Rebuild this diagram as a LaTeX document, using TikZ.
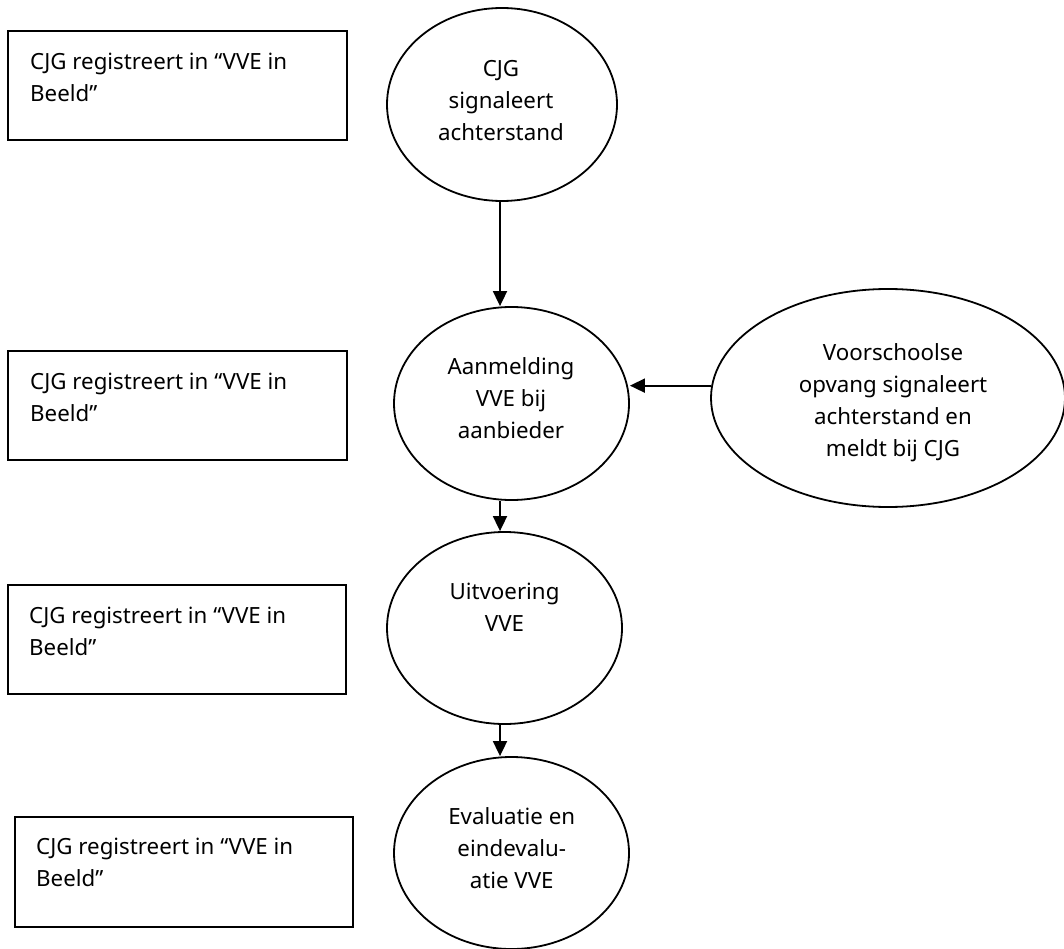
\documentclass[tikz,border=0pt]{standalone}
\usepackage{fontspec}
\setmainfont{Noto Sans}
\usetikzlibrary{arrows.meta,shapes.geometric}
\newcommand{\txtfont}{\fontsize{22.3pt}{32pt}\selectfont}
\newcommand{\firststrut}{\rule{0pt}{20pt}}
\begin{document}
\begin{tikzpicture}[x=1pt,y=-1pt,
  box/.style={draw,line width=1.8pt,rectangle,minimum width=#1,minimum height=109pt,inner sep=0pt},
  ell/.style 2 args={draw,line width=1.8pt,ellipse,minimum width=#1,minimum height=#2,inner sep=0pt},
  boxtxt/.style={anchor=north west,align=left,inner sep=0pt,font=\txtfont},
  elltxt/.style={anchor=north,align=center,inner sep=0pt,font=\txtfont},
  arr/.style={line width=1.8pt,-{Triangle[length=15pt,width=14pt]}}]
\useasboundingbox (0,0) rectangle (1064,949);
\fill[white] (0,0) rectangle (1064,949);
\clip (0,0) rectangle (1064,949);

% left boxes
\node[box=339pt] (b1) at (177.5,85.5) {};
\node[boxtxt] (tb1) at (30,49) {\firststrut CJG registreert in “VVE in\\Beeld”};
\node[box=339pt] (b2) at (177.5,405.5) {};
\node[boxtxt] (tb2) at (30,369) {\firststrut CJG registreert in “VVE in\\Beeld”};
\node[box=338pt] (b3) at (177,639.5) {};
\node[boxtxt] (tb3) at (29,603) {\firststrut CJG registreert in “VVE in\\Beeld”};
\node[box=338pt,minimum height=110pt] (b4) at (184,872) {};
\node[boxtxt] (tb4) at (36,834) {\firststrut CJG registreert in “VVE in\\Beeld”};

% ellipses
\node[ell={230pt}{193pt}] (e1) at (502,104.5) {};
\node[elltxt] (te1) at (501,56) {\firststrut CJG\\signaleert\\achterstand};
\node[ell={235pt}{193pt}] (e2) at (511.5,403.5) {};
\node[elltxt] (te2) at (511,354) {\firststrut Aanmelding\\VVE bij\\aanbieder};
\node[ell={354pt}{218pt}] (e3) at (888,398) {};
\node[elltxt] (te3) at (893,340) {\firststrut Voorschoolse\\opvang signaleert\\achterstand en\\meldt bij CJG};
\node[ell={235pt}{192pt}] (e4) at (504.5,628) {};
\node[elltxt] (te4) at (504.5,579) {\firststrut Uitvoering\\VVE};
\node[ell={235pt}{192pt}] (e5) at (511.5,853) {};
\node[elltxt] (te5) at (511.7,804) {\firststrut Evaluatie en\\eindevalu-\\atie VVE};

% connectors
\coordinate (spine) at (500,0);
\draw[arr] (e1.south -| spine) -- (e2.north -| spine);
\draw[arr] (e2.south -| spine) -- (e4.north -| spine);
\draw[arr] (e4.south -| spine) -- (e5.north -| spine);
\draw[arr] (e3.176.75) -- (e3.176.75 -| e2.east);
\end{tikzpicture}
\end{document}
